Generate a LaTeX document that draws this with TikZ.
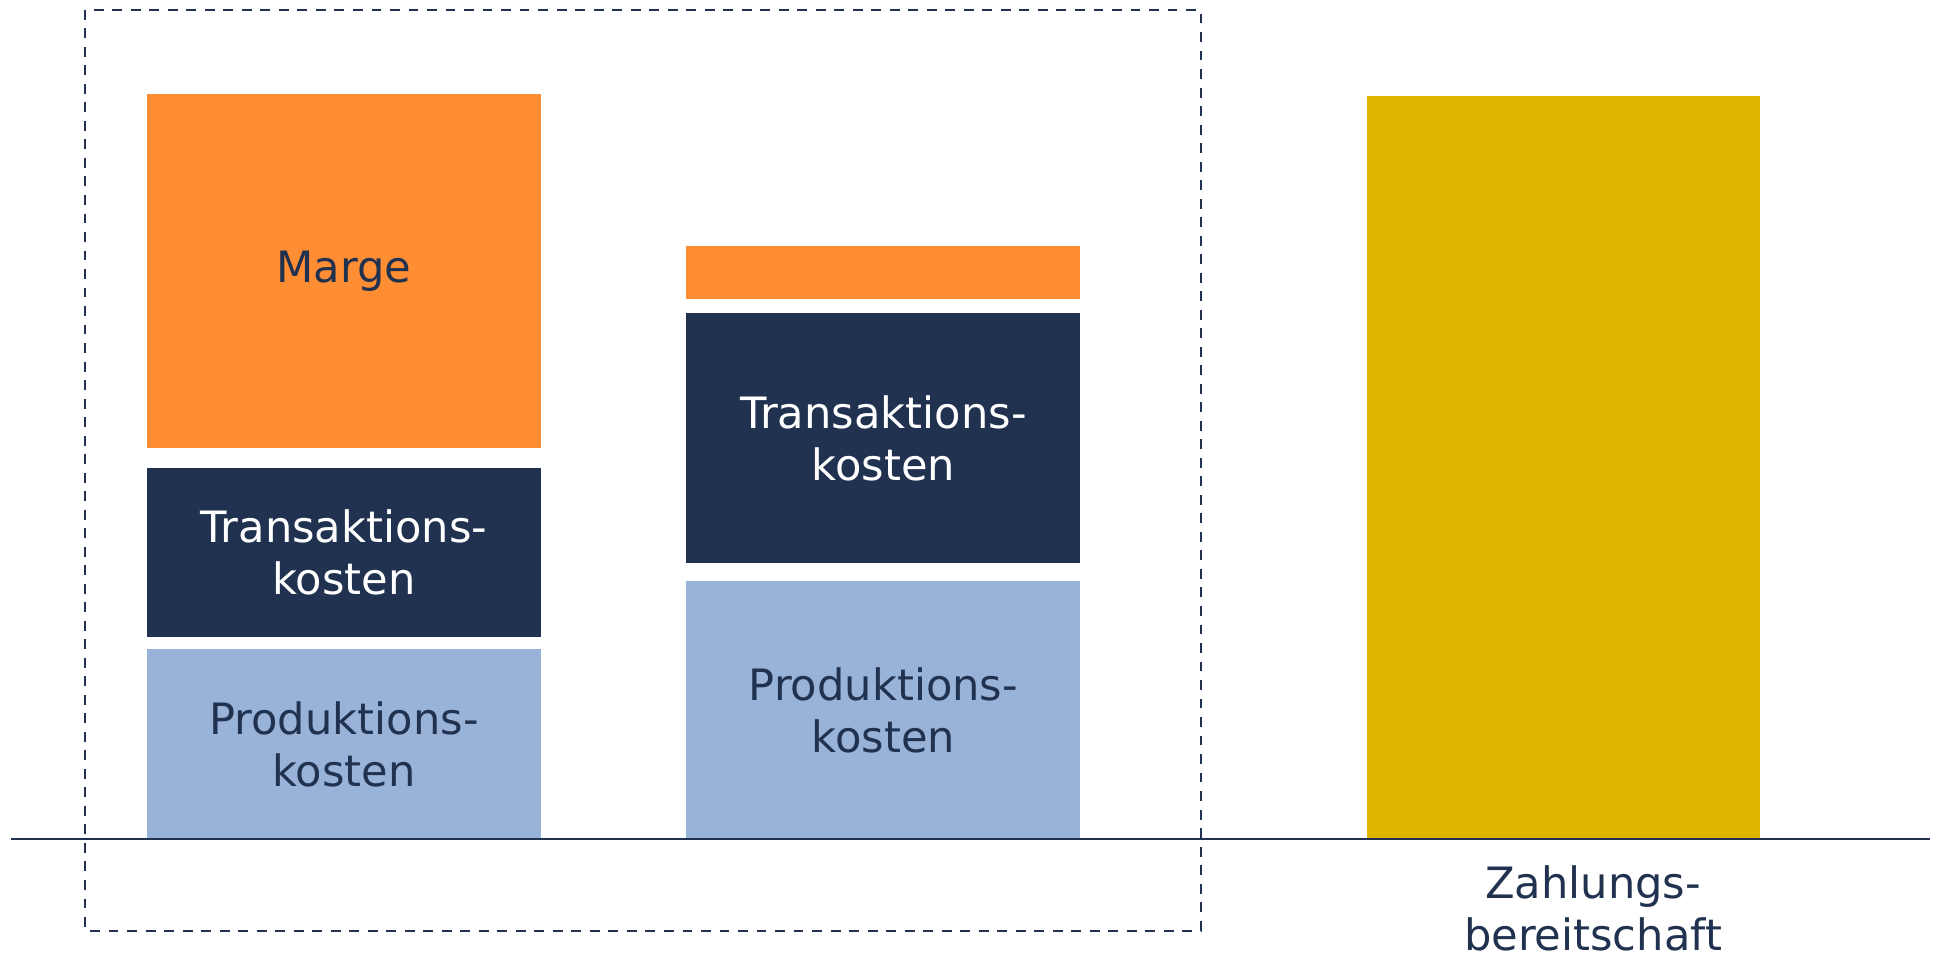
\documentclass[tikz,border=0pt]{standalone}
\usepackage{fontspec}
\setmainfont{DejaVu Sans}
\usetikzlibrary{positioning}

\definecolor{navy}{HTML}{20324F}
\definecolor{margeorange}{HTML}{FF8D33}
\definecolor{lightblue}{HTML}{98B2D8}
\definecolor{gold}{HTML}{DFB500}

\tikzset{
  bar/.style={rectangle, inner sep=0pt, minimum width=319pt, align=center,
    font=\fontsize{35}{42}\selectfont},
  prod/.style={bar, fill=lightblue, text=navy},
  trans/.style={bar, fill=navy, text=white},
  marge/.style={bar, fill=margeorange, text=navy},
  wtp/.style={bar, fill=gold},
}

\begin{document}
\begin{tikzpicture}[x=1pt, y=-1pt]
            
            \useasboundingbox (0,0) rectangle (1567,772);
            
            % Nodes
            
            \node[prod, minimum height=154pt, anchor=south west] (prodA) at (119,680) {Produktions-\\kosten};
            \node[trans, minimum height=137pt, above=9pt of prodA] (transA) {Transaktions-\\kosten};
            \node[marge, minimum height=287pt, above=16pt of transA] (margeA) {Marge};
            
            \node[prod, minimum height=209pt, anchor=south west] (prodB) at (556,680) {Produktions-\\kosten};
            \node[trans, minimum height=203pt, above=14pt of prodB] (transB) {Transaktions-\\kosten};
            \node[marge, minimum height=43pt, above=11pt of transB] (margeB) {};
            
            \node[wtp, minimum height=602pt, anchor=south west] (wtp) at (1107,680) {};
            \node[below=21pt of wtp, xshift=24pt, align=center, text=navy, inner sep=0pt,
              font=\fontsize{35}{42}\selectfont] (wtplabel) {Zahlungs-\\bereitschaft};
            
            % Axis and frame
            
            \coordinate (axisL) at (9,680);
            \coordinate (axisR) at (1564,680);
            \draw[navy, line width=1.6pt] (axisL) -- (axisR);
            
            \draw[navy, line width=1.6pt, dash pattern=on 8pt off 7pt] (69,8) rectangle (973,754);
            
\end{tikzpicture}
\end{document}
